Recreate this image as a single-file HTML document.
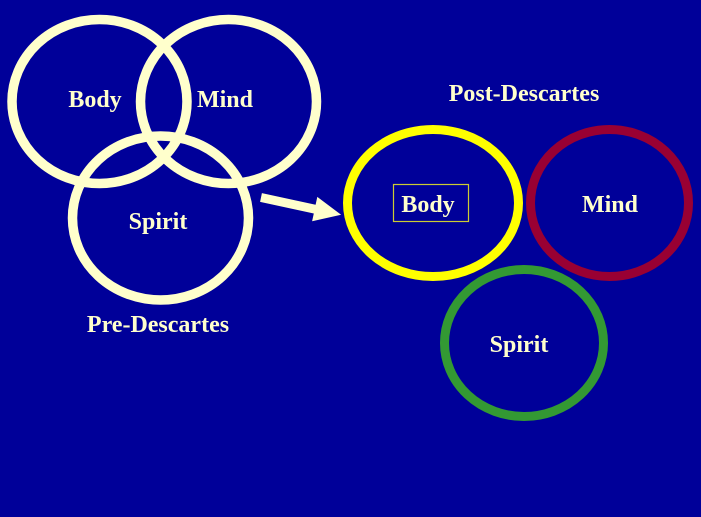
<!DOCTYPE html>
<html><head><meta charset="utf-8"><style>
html,body{margin:0;padding:0;background:#000099;}
svg{display:block;}
text{font-family:"Liberation Serif",serif;font-weight:bold;font-size:24px;fill:#FFFFCC;text-anchor:middle;}
</style></head><body>
<svg width="701" height="517" viewBox="0 0 701 517" xmlns="http://www.w3.org/2000/svg">
<rect width="701" height="517" fill="#000099"/>
<g fill="none" stroke="#FFFFCC" stroke-width="9.5">
<ellipse cx="99.5" cy="101.5" rx="87.5" ry="82"/>
<ellipse cx="228.5" cy="101.5" rx="88" ry="82"/>
<ellipse cx="160.5" cy="218" rx="88" ry="82"/>
</g>
<text x="95" y="107">Body</text>
<text x="225" y="107">Mind</text>
<text x="158" y="229">Spirit</text>
<text x="158" y="332">Pre-Descartes</text>
<polygon fill="#FFFFCC" points="261.9,193.1 315.6,204.7 317.3,196.9 341.1,214.7 312.1,221.3 313.8,213.5 260.1,201.9"/>
<text x="524" y="101">Post-Descartes</text>
<ellipse cx="433" cy="203" rx="85.5" ry="73.5" fill="none" stroke="#FFFF00" stroke-width="9"/>
<ellipse cx="609.5" cy="203" rx="79" ry="73.5" fill="none" stroke="#990033" stroke-width="9"/>
<ellipse cx="524" cy="343" rx="79.5" ry="73.5" fill="none" stroke="#339933" stroke-width="9"/>
<rect x="393.5" y="184.5" width="75" height="37" fill="none" stroke="#CCCC33" stroke-width="1.2"/>
<text x="428" y="212">Body</text>
<text x="610" y="212">Mind</text>
<text x="519" y="352">Spirit</text>
</svg>
</body></html>
